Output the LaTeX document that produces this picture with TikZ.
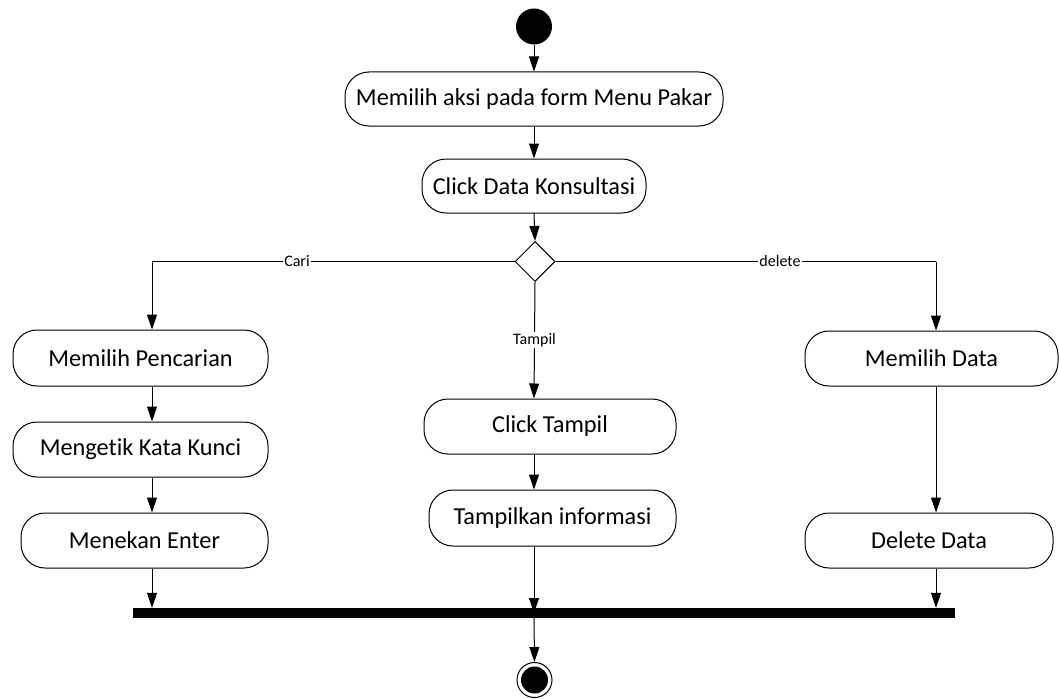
\documentclass[tikz,border=0pt]{standalone}
\usepackage{fontspec}
\setmainfont{Carlito}[Ligatures={NoCommon,NoDiscretionary},RawFeature={-liga;-dlig;-clig}]
\usetikzlibrary{arrows.meta,shapes.geometric}
\begin{document}
\begin{tikzpicture}[x=1pt,y=-1pt,
  act/.style={draw, line width=1pt, rounded corners=24pt, inner sep=0pt,
    font=\fontsize{24.3}{29}\selectfont},
  lbl/.style={fill=white, inner sep=1pt, font=\fontsize{16}{19}\selectfont},
  arr/.style={line width=1pt, -{Triangle[length=15pt,width=10pt]}},
  ln/.style={line width=1pt}]
\useasboundingbox (0,0) rectangle (1059,698);

% start / decision / join / end
\node (start) [circle, fill=black, minimum size=36pt, inner sep=0pt] at (534,26.5) {};
\node (dec) [diamond, draw, line width=1pt, minimum width=40pt, minimum height=40pt,
  inner sep=0pt, aspect=1] at (535,261.5) {};
\node (bar) [fill=black, minimum width=822pt, minimum height=10pt, inner sep=0pt] at (544,613) {};
\node (end) [circle, draw, line width=1pt, minimum size=35pt, inner sep=0pt] at (534.5,680) {};
\node (endin) [circle, fill=black, minimum size=27pt, inner sep=0pt] at (end) {};

% column positions
\coordinate (colL) at (152,0);
\coordinate (colM) at (534,0);
\coordinate (colR) at (936,0);

% activities
\node (a1) [act, minimum width=378pt, minimum height=54pt] at (534,99) {Memilih aksi pada form Menu Pakar};
\node (a2) [act, minimum width=224pt, minimum height=54pt] at (534,186) {Click Data Konsultasi};
\node (l1) [act, minimum width=255pt, minimum height=56pt] at (140.5,358) {Memilih Pencarian};
\node (l2) [act, minimum width=255pt, minimum height=55pt] at (140.5,449.5) {Mengetik Kata Kunci};
\node (l3) [act, minimum width=247pt, minimum height=55pt] at (144.5,540.5) {Menekan Enter};
\node (m1) [act, minimum width=252pt, minimum height=55pt] at (550,426.5) {Click Tampil};
\node (m2) [act, minimum width=247pt, minimum height=56pt] at (552.5,518) {Tampilkan informasi};
\node (r1) [act, minimum width=253pt, minimum height=55pt] at (931.5,358.5) {Memilih Data};
\node (r2) [act, minimum width=248pt, minimum height=55pt] at (929,540.5) {Delete Data};

% flow
\draw[arr] (start.south -| colM) -- (a1.north -| colM);
\draw[arr] (a1.south -| colM) -- (a2.north -| colM);
\draw[arr] (a2.south -| colM) -- (dec.north);

\draw[ln] (dec.west) -- node[lbl, pos=0.6] {Cari} (dec.west -| colL);
\draw[arr] (dec.west -| colL) -- (l1.north -| colL);
\draw[ln] (dec.east) -- node[lbl, pos=0.59] {delete} (dec.east -| colR);
\draw[arr] (dec.east -| colR) -- (r1.north -| colR);
\draw[arr] (dec.south) -- node[lbl, pos=0.5] {Tampil} (m1.north -| colM);

\draw[arr] (l1.south -| colL) -- (l2.north -| colL);
\draw[arr] (l2.south -| colL) -- (l3.north -| colL);
\draw[arr] (l3.south -| colL) -- (bar.north -| colL);

\draw[arr] (m1.south -| colM) -- (m2.north -| colM);
\draw[arr] (m2.south -| colM) -- (bar.center -| colM);

\draw[arr] (r1.south -| colR) -- (r2.north -| colR);
\draw[arr] (r2.south -| colR) -- (bar.north -| colR);

\draw[arr] (bar.south -| colM) -- (end.north);
\end{tikzpicture}
\end{document}
